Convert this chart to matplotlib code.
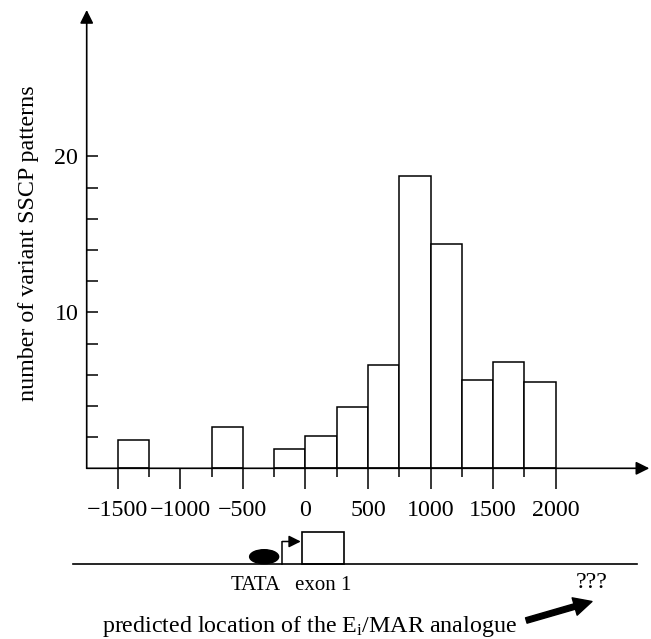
import matplotlib
matplotlib.use("Agg")
import matplotlib.pyplot as plt
from matplotlib.patches import Ellipse, Rectangle

plt.rcParams['font.family'] = ['Liberation Serif', 'DejaVu Serif']
plt.rcParams['mathtext.fontset'] = 'custom'
plt.rcParams['mathtext.rm'] = 'Liberation Serif'
plt.rcParams['mathtext.it'] = 'Liberation Serif:italic'

# histogram: left edge of each 250 bp bin and number of variant patterns
bin_left = [-1500, -750, -250, 0, 250, 500, 750, 1000, 1250, 1500, 1750]
counts = [1.8, 2.65, 1.25, 2.05, 3.9, 6.6, 18.75, 14.35, 5.65, 6.8, 5.55]
bin_width = 250

xticks_major = [-1500, -1000, -500, 0, 500, 1000, 1500, 2000]
xticks_minor = [-1250, -750, -250, 250, 750, 1250, 1750]
yticks_major = [10, 20]
yticks_minor = [2, 4, 6, 8, 12, 14, 16, 18]

# gene diagram (bp positions)
tata_pos = -330
tata_width = 232
tss_pos = -185
exon1 = (-25, 310)
mar_pos = 2290

fs = 17.3
W, H = 651, 639

fig = plt.figure(figsize=(6.51, 6.39), dpi=100)

# main histogram axes, placed in pixel terms
x0, x1 = 86.7, 649.3
y0, y1 = 468.3, 10
ax = fig.add_axes([x0 / W, (H - y0) / H, (x1 - x0) / W, (y0 - y1) / H])
ax.set_xlim(-1748, 2748)
ax.set_ylim(0, 29.38)
for s in ax.spines.values():
    s.set_visible(False)

ax.bar(bin_left, counts, width=bin_width, align='edge',
       facecolor='white', edgecolor='black', linewidth=1.1, zorder=3)

# axes with arrows
arr = dict(arrowstyle='-|>', color='black', lw=1.2, mutation_scale=20,
           shrinkA=0, shrinkB=0)
ax.annotate('', xy=(1, 0), xytext=(0, 0), xycoords='axes fraction',
            arrowprops=arr, zorder=4)
ax.annotate('', xy=(0, 1), xytext=(0, 0), xycoords='axes fraction',
            arrowprops=arr, zorder=4)

ax.set_xticks(xticks_major)
ax.set_xticks(xticks_minor, minor=True)
ax.set_xticklabels([f"{v}".replace('-', '\u2212') for v in xticks_major])
ax.set_yticks(yticks_major)
ax.set_yticks(yticks_minor, minor=True)
ax.set_yticklabels([str(v) for v in yticks_major])

ax.tick_params(axis='x', which='major', direction='out', length=15, width=1.1,
               pad=7.5, labelsize=fs)
ax.tick_params(axis='x', which='minor', direction='out', length=6.5, width=1.1)
ax.tick_params(axis='y', which='both', direction='in', length=7.6, width=1.1,
               pad=6, labelsize=fs)

fig.text(28.3 / W, 1 - 243.3 / H, 'number of variant SSCP patterns',
         rotation=90, ha='center', va='center', fontsize=fs)

# gene diagram axes: same bp scale, y in pixel rows
gx = fig.add_axes([x0 / W, 0, (x1 - x0) / W, (H - 520) / H])
gx.set_xlim(-1748, 2748)
gx.set_ylim(H, 520)
gx.axis('off')

gx.plot([-1860, 2647], [564, 564], color='black', lw=1.2, clip_on=False)
gx.add_patch(Ellipse((tata_pos, 556.7), tata_width, 14,
                     facecolor='black', edgecolor='black'))
gx.add_patch(Rectangle((exon1[0], 532.3), exon1[1] - exon1[0], 564 - 532.3,
                       facecolor='white', edgecolor='black', lw=1.2))
gx.plot([tss_pos, tss_pos], [564, 541.5], color='black', lw=1.1)
gx.annotate('', xy=(exon1[0] - 12, 541.5), xytext=(tss_pos, 541.5),
            xycoords='data',
            arrowprops=dict(arrowstyle='-|>', color='black', lw=1.1,
                            mutation_scale=18, shrinkA=0, shrinkB=0))

gx.text(-395, 589.7, 'TATA', ha='center', va='baseline', fontsize=15)
gx.text(143, 589.7, 'exon 1', ha='center', va='baseline', fontsize=15)
gx.text(mar_pos, 588.3, '???', ha='center', va='baseline', fontsize=fs)
gx.text(-1622, 632.3, 'predicted location of the E$_\\mathrm{i}$/MAR analogue',
        ha='left', va='baseline', fontsize=fs)
gx.annotate('', xy=(2290, 601.5), xytext=(1765, 620.5),
            arrowprops=dict(arrowstyle='simple,head_length=1.3,head_width=1.3,tail_width=0.4',
                            facecolor='black', edgecolor='black',
                            mutation_scale=10, shrinkA=0, shrinkB=0))

fig.savefig('out.png', dpi=100)
